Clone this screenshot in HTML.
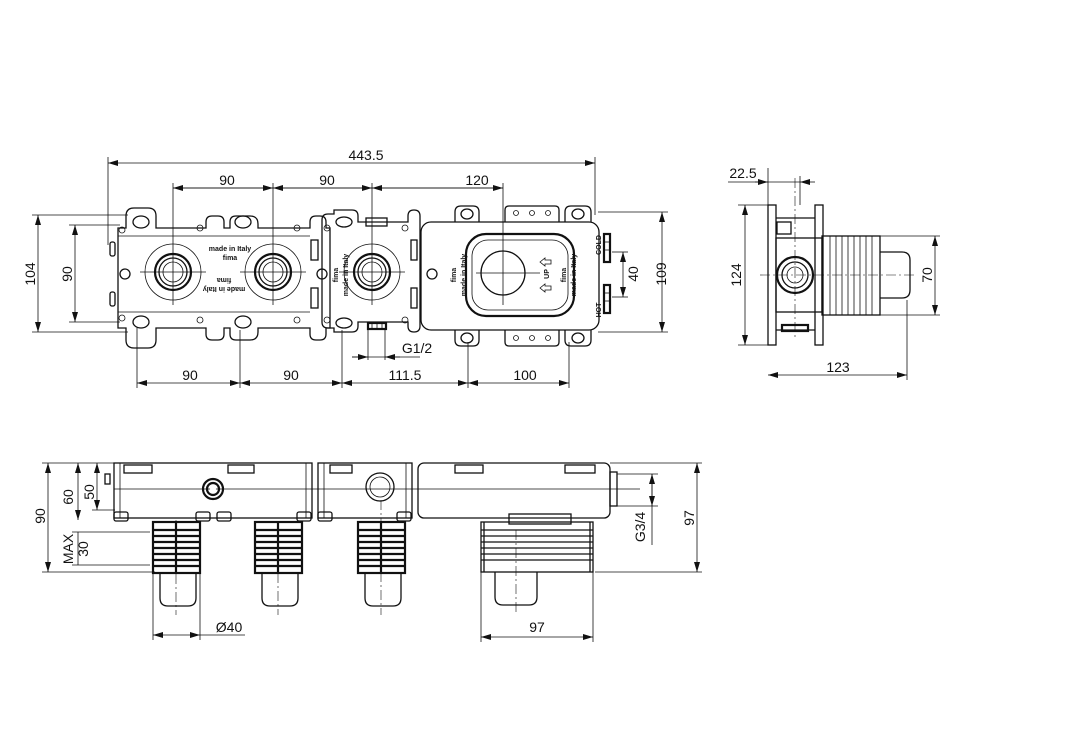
<!DOCTYPE html>
<html><head><meta charset="utf-8"><style>
html,body{margin:0;padding:0;background:#fff}
svg{display:block}
text{font-family:"Liberation Sans",sans-serif;font-size:14px;fill:#111}
.s{fill:none;stroke:#111;stroke-width:1.3}
.t{fill:none;stroke:#111;stroke-width:0.8}
.th{fill:none;stroke:#111;stroke-width:2.2}
.d{fill:none;stroke:#111;stroke-width:0.8}
.c{fill:none;stroke:#111;stroke-width:0.6;stroke-dasharray:10 3 2 3}
.sm{font-size:7px;font-weight:bold}
</style></head><body>
<svg width="1081" height="737" viewBox="0 0 1081 737" xmlns="http://www.w3.org/2000/svg">
<defs>
<marker id="a" viewBox="0 0 10 6" refX="10" refY="3" markerWidth="10" markerHeight="6" orient="auto-start-reverse" markerUnits="userSpaceOnUse"><path d="M0,0 L10,3 L0,6 z" fill="#111"/></marker>
</defs>

<!-- ===== TOP VIEW ===== -->
<line class="d" x1="108" y1="163" x2="595" y2="163" marker-start="url(#a)" marker-end="url(#a)"/>
<line class="d" x1="108" y1="157" x2="108" y2="245"/>
<line class="d" x1="595" y1="157" x2="595" y2="215"/>
<text x="366" y="160" text-anchor="middle">443.5</text>
<line class="d" x1="173" y1="188" x2="503" y2="188"/>
<line class="d" x1="173" y1="188" x2="273" y2="188" marker-start="url(#a)" marker-end="url(#a)"/>
<line class="d" x1="273" y1="188" x2="372" y2="188" marker-start="url(#a)" marker-end="url(#a)"/>
<line class="d" x1="372" y1="188" x2="503" y2="188" marker-start="url(#a)" marker-end="url(#a)"/>
<text x="227" y="185" text-anchor="middle">90</text>
<text x="327" y="185" text-anchor="middle">90</text>
<text x="477" y="185" text-anchor="middle">120</text>
<line class="d" x1="173" y1="183" x2="173" y2="305"/>
<line class="d" x1="273" y1="183" x2="273" y2="305"/>
<line class="d" x1="372" y1="183" x2="372" y2="305"/>
<line class="d" x1="503" y1="183" x2="503" y2="305"/>

<path class="s" d="M118,228 h8 v-12 q0,-8 8,-8 h14 q8,0 8,8 v12 h50 v-6 q0,-6 6,-6 h6 q6,0 6,6 v6 h6 v-6 q0,-6 6,-6 h14 q8,0 8,8 v4 h52 v-6 q0,-6 6,-6 h4 q6,0 6,6 v6 h4 v100 h-4 v6 q0,6 -6,6 h-4 q-6,0 -6,-6 v-6 h-52 v4 q0,8 -8,8 h-14 q-6,0 -6,-6 v-6 h-6 v6 q0,6 -6,6 h-6 q-6,0 -6,-6 v-6 h-50 v12 q0,8 -8,8 h-14 q-8,0 -8,-8 v-12 h-8 z"/>
<line class="t" x1="118" y1="236" x2="310" y2="236"/>
<line class="t" x1="118" y1="312" x2="310" y2="312"/>
<ellipse class="s" cx="141" cy="222" rx="8" ry="6"/><ellipse class="s" cx="243" cy="222" rx="8" ry="6"/>
<ellipse class="s" cx="141" cy="322" rx="8" ry="6"/><ellipse class="s" cx="243" cy="322" rx="8" ry="6"/>
<circle class="t" cx="122" cy="230" r="3"/><circle class="t" cx="200" cy="228" r="3"/><circle class="t" cx="297" cy="228" r="3"/>
<circle class="t" cx="122" cy="318" r="3"/><circle class="t" cx="200" cy="320" r="3"/><circle class="t" cx="297" cy="320" r="3"/>
<circle class="s" cx="125" cy="274" r="5"/>
<rect class="s" x="110" y="242" width="5" height="14" rx="2"/><rect class="s" x="110" y="292" width="5" height="14" rx="2"/>

<path class="s" d="M322,226 v-6 q0,-6 6,-6 h6 v-4 h18 q6,0 6,6 v6 h50 v-6 q0,-6 6,-6 h0 q6,0 6,6 v10 v96 v4 q0,6 -6,6 h0 q-6,0 -6,-6 v-4 h-50 v4 q0,6 -6,6 h-18 v-4 h-6 q-6,0 -6,-6 v-6 z"/>
<ellipse class="s" cx="344" cy="222" rx="8" ry="5"/><ellipse class="s" cx="344" cy="323" rx="8" ry="5"/>
<rect class="s" x="366" y="218" width="21" height="8"/>
<rect class="th" x="368" y="323" width="18" height="6"/>
<line class="t" x1="372" y1="323" x2="372" y2="329"/><line class="t" x1="377" y1="323" x2="377" y2="329"/><line class="t" x1="382" y1="323" x2="382" y2="329"/>
<circle class="t" cx="327" cy="228" r="3"/><circle class="t" cx="405" cy="228" r="3"/><circle class="t" cx="327" cy="320" r="3"/><circle class="t" cx="405" cy="320" r="3"/>
<circle class="s" cx="322" cy="274" r="5"/>
<rect class="s" x="311" y="240" width="7" height="20"/><rect class="s" x="311" y="288" width="7" height="20"/>
<rect class="s" x="411" y="240" width="6" height="20"/><rect class="s" x="411" y="288" width="6" height="20"/>

<g>
<circle class="t" cx="173" cy="272" r="28"/><circle class="th" cx="173" cy="272" r="18"/><circle class="s" cx="173" cy="272" r="14"/><circle class="t" cx="173" cy="272" r="10"/>
<circle class="t" cx="273" cy="272" r="28"/><circle class="th" cx="273" cy="272" r="18"/><circle class="s" cx="273" cy="272" r="14"/><circle class="t" cx="273" cy="272" r="10"/>
<circle class="t" cx="372" cy="272" r="28"/><circle class="th" cx="372" cy="272" r="18"/><circle class="s" cx="372" cy="272" r="14"/><circle class="t" cx="372" cy="272" r="10"/>
</g>
<line class="d" x1="140" y1="272" x2="206" y2="272"/><line class="d" x1="240" y1="272" x2="306" y2="272"/><line class="d" x1="339" y1="272" x2="405" y2="272"/>

<text class="sm" x="230" y="251" text-anchor="middle">made in Italy</text>
<text class="sm" x="230" y="260" text-anchor="middle">fima</text>
<text class="sm" x="224" y="293" text-anchor="middle" transform="rotate(180 224 290)">made in Italy</text>
<text class="sm" x="224" y="284" text-anchor="middle" transform="rotate(180 224 281)">fima</text>
<text class="sm" transform="translate(338,275) rotate(-90)" text-anchor="middle">fima</text>
<text class="sm" transform="translate(348,275) rotate(-90)" text-anchor="middle">made in Italy</text>

<rect class="s" x="421" y="222" width="178" height="108" rx="10"/>
<path class="s" d="M455,222 v-10 q0,-6 6,-6 h12 q6,0 6,6 v10"/>
<path class="s" d="M505,222 v-12 q0,-4 4,-4 h46 q4,0 4,4 v12"/>
<path class="s" d="M565,222 v-10 q0,-6 6,-6 h14 q6,0 6,6 v10"/>
<path class="s" d="M455,330 v10 q0,6 6,6 h12 q6,0 6,-6 v-10"/>
<path class="s" d="M505,330 v12 q0,4 4,4 h46 q4,0 4,-4 v-12"/>
<path class="s" d="M565,330 v10 q0,6 6,6 h14 q6,0 6,-6 v-10"/>
<ellipse class="s" cx="467" cy="214" rx="6" ry="5"/><ellipse class="s" cx="578" cy="214" rx="6" ry="5"/>
<ellipse class="s" cx="467" cy="338" rx="6" ry="5"/><ellipse class="s" cx="578" cy="338" rx="6" ry="5"/>
<circle class="t" cx="516" cy="213" r="2.5"/><circle class="t" cx="532" cy="213" r="2.5"/><circle class="t" cx="548" cy="213" r="2.5"/>
<circle class="t" cx="516" cy="338" r="2.5"/><circle class="t" cx="532" cy="338" r="2.5"/><circle class="t" cx="548" cy="338" r="2.5"/>
<circle class="s" cx="432" cy="274" r="5"/>
<rect class="th" x="466" y="234" width="108" height="82" rx="20"/>
<rect class="t" x="472" y="240" width="96" height="70" rx="16"/>
<circle class="s" cx="503" cy="273" r="22"/>
<line class="d" x1="476" y1="273" x2="540" y2="273"/>
<text class="sm" transform="translate(549,274) rotate(-90)" text-anchor="middle">UP</text>
<path class="t" d="M540,262 l5,-4 v2 h6 v4 h-6 v2 z"/><path class="t" d="M540,288 l5,-4 v2 h6 v4 h-6 v2 z"/>
<text class="sm" transform="translate(456,275) rotate(-90)" text-anchor="middle">fima</text>
<text class="sm" transform="translate(466,275) rotate(-90)" text-anchor="middle">made in Italy</text>
<text class="sm" transform="translate(566,275) rotate(-90)" text-anchor="middle">fima</text>
<text class="sm" transform="translate(576,275) rotate(-90)" text-anchor="middle">made in Italy</text>
<text class="sm" transform="translate(601,245) rotate(-90)" text-anchor="middle">COLD</text>
<text class="sm" transform="translate(601,310) rotate(-90)" text-anchor="middle">HOT</text>
<rect class="th" x="604" y="234" width="6" height="28"/><rect class="th" x="604" y="285" width="6" height="28"/>
<line class="t" x1="604" y1="242" x2="610" y2="242"/><line class="t" x1="604" y1="250" x2="610" y2="250"/>
<line class="t" x1="604" y1="293" x2="610" y2="293"/><line class="t" x1="604" y1="301" x2="610" y2="301"/>

<line class="d" x1="38" y1="215" x2="38" y2="332" marker-start="url(#a)" marker-end="url(#a)"/>
<line class="d" x1="32" y1="215" x2="128" y2="215"/><line class="d" x1="32" y1="332" x2="128" y2="332"/>
<line class="d" x1="75" y1="225" x2="75" y2="322" marker-start="url(#a)" marker-end="url(#a)"/>
<line class="d" x1="69" y1="225" x2="120" y2="225"/><line class="d" x1="69" y1="322" x2="120" y2="322"/>
<text transform="translate(35,274) rotate(-90)" text-anchor="middle">104</text>
<text transform="translate(72,274) rotate(-90)" text-anchor="middle">90</text>
<line class="d" x1="598" y1="212" x2="668" y2="212"/><line class="d" x1="598" y1="332" x2="668" y2="332"/>
<line class="d" x1="662" y1="212" x2="662" y2="332" marker-start="url(#a)" marker-end="url(#a)"/>
<line class="d" x1="612" y1="252" x2="628" y2="252"/><line class="d" x1="612" y1="297" x2="628" y2="297"/>
<line class="d" x1="623" y1="252" x2="623" y2="297" marker-start="url(#a)" marker-end="url(#a)"/>
<text transform="translate(638,274) rotate(-90)" text-anchor="middle">40</text>
<text transform="translate(666,274) rotate(-90)" text-anchor="middle">109</text>
<line class="d" x1="137" y1="328" x2="137" y2="388"/><line class="d" x1="240" y1="330" x2="240" y2="388"/>
<line class="d" x1="342" y1="330" x2="342" y2="388"/><line class="d" x1="468" y1="342" x2="468" y2="388"/>
<line class="d" x1="569" y1="342" x2="569" y2="388"/>
<line class="d" x1="137" y1="383" x2="240" y2="383" marker-start="url(#a)" marker-end="url(#a)"/>
<line class="d" x1="240" y1="383" x2="342" y2="383" marker-start="url(#a)" marker-end="url(#a)"/>
<line class="d" x1="342" y1="383" x2="468" y2="383" marker-start="url(#a)" marker-end="url(#a)"/>
<line class="d" x1="468" y1="383" x2="569" y2="383" marker-start="url(#a)" marker-end="url(#a)"/>
<text x="190" y="380" text-anchor="middle">90</text>
<text x="291" y="380" text-anchor="middle">90</text>
<text x="405" y="380" text-anchor="middle">111.5</text>
<text x="525" y="380" text-anchor="middle">100</text>
<line class="d" x1="368" y1="330" x2="368" y2="360"/><line class="d" x1="385" y1="330" x2="385" y2="360"/>
<line class="d" x1="352" y1="357" x2="420" y2="357"/>
<line class="d" x1="352" y1="357" x2="368" y2="357" marker-end="url(#a)"/>
<line class="d" x1="400" y1="357" x2="385" y2="357" marker-end="url(#a)"/>
<text x="417" y="353" text-anchor="middle">G1/2</text>

<!-- ===== SIDE VIEW ===== -->
<line class="d" x1="768" y1="168" x2="768" y2="345"/><line class="d" x1="800" y1="176" x2="800" y2="205"/>
<line class="d" x1="728" y1="182" x2="800" y2="182"/>
<line class="d" x1="755" y1="182" x2="768" y2="182" marker-end="url(#a)"/>
<line class="d" x1="815" y1="182" x2="800" y2="182" marker-end="url(#a)"/>
<text x="743" y="178" text-anchor="middle">22.5</text>
<rect class="s" x="768" y="205" width="8" height="140"/>
<rect class="s" x="815" y="205" width="8" height="140"/>
<path class="s" d="M776,218 h39 M776,330 h39"/>
<rect class="s" x="776" y="238" width="46" height="74"/>
<rect class="s" x="777" y="222" width="14" height="12"/><rect class="th" x="782" y="325" width="26" height="6"/>
<circle class="th" cx="795" cy="275" r="18"/><circle class="s" cx="795" cy="275" r="13"/><circle class="t" cx="795" cy="275" r="8"/>
<rect class="s" x="822" y="236" width="58" height="79"/>
<line class="t" x1="830" y1="236" x2="830" y2="315"/><line class="t" x1="836" y1="236" x2="836" y2="315"/><line class="t" x1="842" y1="236" x2="842" y2="315"/>
<line class="t" x1="848" y1="236" x2="848" y2="315"/><line class="t" x1="854" y1="236" x2="854" y2="315"/><line class="t" x1="860" y1="236" x2="860" y2="315"/>
<line class="t" x1="866" y1="236" x2="866" y2="315"/><line class="t" x1="872" y1="236" x2="872" y2="315"/>
<path class="s" d="M880,252 h22 q8,0 8,8 v30 q0,8 -8,8 h-22"/>
<line class="c" x1="760" y1="275" x2="915" y2="275"/><line class="c" x1="795" y1="178" x2="795" y2="340"/>
<line class="d" x1="738" y1="205" x2="770" y2="205"/><line class="d" x1="738" y1="345" x2="770" y2="345"/>
<line class="d" x1="745" y1="205" x2="745" y2="345" marker-start="url(#a)" marker-end="url(#a)"/>
<text transform="translate(741,275) rotate(-90)" text-anchor="middle">124</text>
<line class="d" x1="880" y1="236" x2="940" y2="236"/><line class="d" x1="880" y1="315" x2="940" y2="315"/>
<line class="d" x1="935" y1="236" x2="935" y2="315" marker-start="url(#a)" marker-end="url(#a)"/>
<text transform="translate(932,275) rotate(-90)" text-anchor="middle">70</text>
<line class="d" x1="907" y1="300" x2="907" y2="380"/>
<line class="d" x1="768" y1="375" x2="907" y2="375" marker-start="url(#a)" marker-end="url(#a)"/>
<text x="838" y="372" text-anchor="middle">123</text>

<!-- ===== FRONT VIEW ===== -->
<rect class="s" x="114" y="463" width="198" height="55"/>
<rect class="s" x="318" y="463" width="94" height="55"/>
<rect class="s" x="418" y="463" width="192" height="55" rx="6"/>
<line class="t" x1="114" y1="489" x2="640" y2="489"/>
<line class="t" x1="120" y1="463" x2="120" y2="518"/><line class="t" x1="306" y1="463" x2="306" y2="518"/>
<line class="t" x1="324" y1="463" x2="324" y2="518"/><line class="t" x1="406" y1="463" x2="406" y2="518"/>
<rect class="s" x="124" y="465" width="28" height="8"/><rect class="s" x="228" y="465" width="26" height="8"/>
<rect class="s" x="330" y="465" width="22" height="8"/><rect class="s" x="455" y="465" width="28" height="8"/><rect class="s" x="565" y="465" width="30" height="8"/>
<rect class="s" x="114" y="512" width="14" height="9" rx="2"/><rect class="s" x="196" y="512" width="14" height="9" rx="2"/><rect class="s" x="217" y="512" width="14" height="9" rx="2"/><rect class="s" x="297" y="512" width="14" height="9" rx="2"/>
<rect class="s" x="318" y="512" width="14" height="9" rx="2"/><rect class="s" x="397" y="512" width="14" height="9" rx="2"/>
<rect class="s" x="105" y="474" width="5" height="10"/>
<circle class="th" cx="213" cy="489" r="10"/><circle class="th" cx="213" cy="489" r="6"/><circle fill="#fff" cx="213" cy="489" r="3"/>
<circle class="s" cx="380" cy="487" r="14"/><circle class="t" cx="380" cy="487" r="10"/>
<rect class="s" x="610" y="472" width="7" height="34"/>
<rect class="s" x="509" y="514" width="62" height="10"/>
<g>
<rect class="th" x="153" y="522" width="47" height="51"/>
<rect class="th" x="255" y="522" width="47" height="51"/>
<rect class="th" x="358" y="522" width="47" height="51"/>
<path class="th" d="M153,530h47M153,536h47M153,542h47M153,548h47M153,554h47M153,560h47M153,566h47 M255,530h47M255,536h47M255,542h47M255,548h47M255,554h47M255,560h47M255,566h47 M358,530h47M358,536h47M358,542h47M358,548h47M358,554h47M358,560h47M358,566h47"/>
<path class="th" d="M176,522v51M278,522v51M381,522v51"/>
<rect class="s" x="481" y="522" width="112" height="50"/>
<path class="s" d="M481,530h112M481,536h112M481,542h112M481,548h112M481,554h112M481,560h112M484,522v50M590,522v50"/>
<path class="s" d="M160,573v25q0,8 8,8h20q8,0 8,-8v-25 M262,573v25q0,8 8,8h20q8,0 8,-8v-25 M365,573v25q0,8 8,8h20q8,0 8,-8v-25 M495,572v25q0,8 8,8h26q8,0 8,-8v-25"/>
</g>
<line class="c" x1="176" y1="520" x2="176" y2="615"/><line class="c" x1="278" y1="573" x2="278" y2="615"/>
<line class="c" x1="381" y1="500" x2="381" y2="615"/><line class="c" x1="516" y1="530" x2="516" y2="615"/>
<line class="d" x1="42" y1="463" x2="114" y2="463"/><line class="d" x1="42" y1="572" x2="155" y2="572"/>
<line class="d" x1="48" y1="463" x2="48" y2="572" marker-start="url(#a)" marker-end="url(#a)"/>
<text transform="translate(45,516) rotate(-90)" text-anchor="middle">90</text>
<line class="d" x1="78" y1="463" x2="78" y2="520" marker-start="url(#a)" marker-end="url(#a)"/>
<text transform="translate(73,497) rotate(-90)" text-anchor="middle">60</text>
<line class="d" x1="92" y1="510" x2="115" y2="510"/>
<line class="d" x1="97" y1="463" x2="97" y2="510" marker-start="url(#a)" marker-end="url(#a)"/>
<text transform="translate(94,492) rotate(-90)" text-anchor="middle">50</text>
<line class="d" x1="72" y1="532" x2="150" y2="532"/><line class="d" x1="72" y1="565" x2="150" y2="565"/>
<line class="d" x1="78" y1="532" x2="78" y2="565"/>
<text transform="translate(73,549) rotate(-90)" text-anchor="middle">MAX</text>
<text transform="translate(88,549) rotate(-90)" text-anchor="middle">30</text>
<line class="d" x1="610" y1="463" x2="702" y2="463"/><line class="d" x1="595" y1="572" x2="702" y2="572"/>
<line class="d" x1="697" y1="463" x2="697" y2="572" marker-start="url(#a)" marker-end="url(#a)"/>
<text transform="translate(694,518) rotate(-90)" text-anchor="middle">97</text>
<line class="d" x1="617" y1="474" x2="658" y2="474"/><line class="d" x1="617" y1="506" x2="658" y2="506"/>
<line class="d" x1="652" y1="474" x2="652" y2="545"/>
<line class="d" x1="652" y1="490" x2="652" y2="474" marker-end="url(#a)"/>
<line class="d" x1="652" y1="490" x2="652" y2="506" marker-end="url(#a)"/>
<text transform="translate(645,527) rotate(-90)" text-anchor="middle">G3/4</text>
<line class="d" x1="153" y1="573" x2="153" y2="640"/><line class="d" x1="200" y1="573" x2="200" y2="640"/>
<line class="d" x1="153" y1="635" x2="200" y2="635" marker-start="url(#a)" marker-end="url(#a)"/>
<line class="d" x1="200" y1="635" x2="245" y2="635"/>
<text x="229" y="632" text-anchor="middle">Ø40</text>
<line class="d" x1="481" y1="572" x2="481" y2="642"/><line class="d" x1="593" y1="572" x2="593" y2="642"/>
<line class="d" x1="481" y1="637" x2="593" y2="637" marker-start="url(#a)" marker-end="url(#a)"/>
<text x="537" y="632" text-anchor="middle">97</text>
</svg>
</body></html>
